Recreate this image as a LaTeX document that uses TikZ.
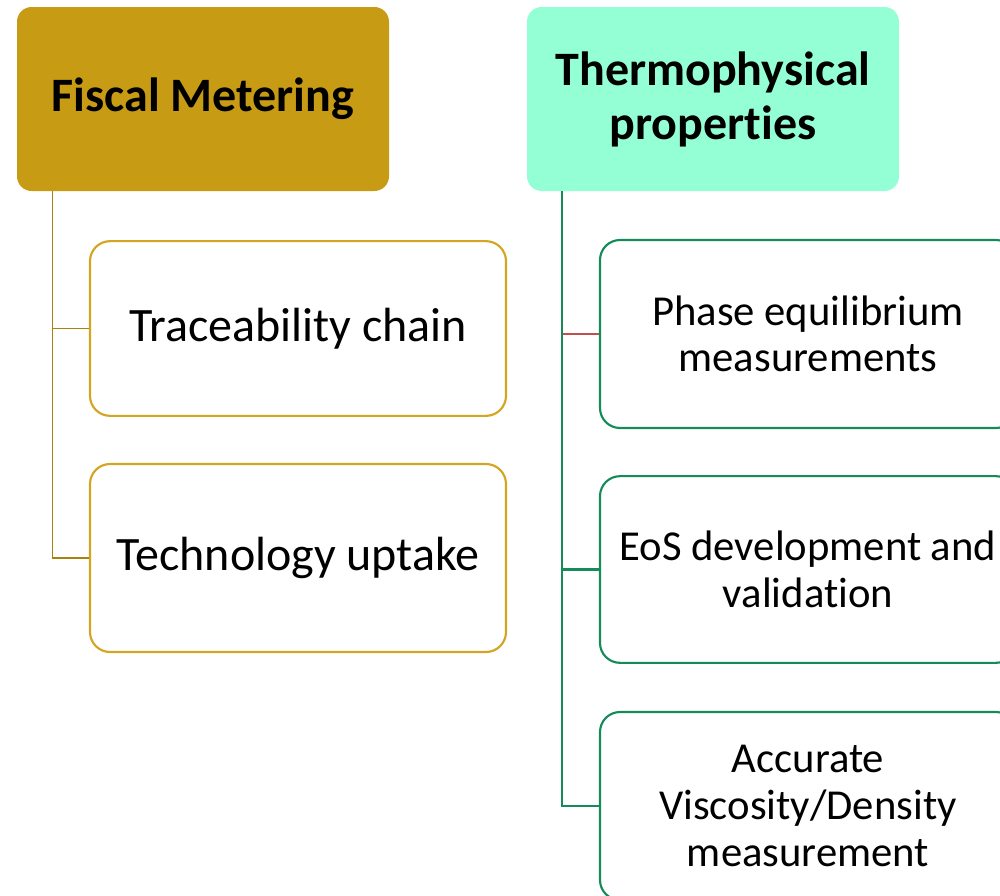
\documentclass[tikz,border=0pt]{standalone}
\usepackage{fontspec}
\setmainfont[Ligatures=NoCommon]{Carlito}
\usetikzlibrary{positioning,calc}

\definecolor{fiscalgold}{HTML}{C89B14}
\definecolor{goldline}{HTML}{D4A520}
\definecolor{goldspine}{HTML}{A8820F}
\definecolor{thermomint}{HTML}{94FFD4}
\definecolor{thermogreen}{HTML}{178A5A}
\definecolor{linkred}{HTML}{C0504D}

\begin{document}
\begin{tikzpicture}[
    x=0.75pt, y=-0.75pt,
    head/.style={rectangle, rounded corners=11pt, minimum width=279pt, minimum height=138pt, align=center, font=\fontsize{36}{40.5}\selectfont\bfseries},
    leaf/.style={rectangle, rounded corners=15pt, line width=1.6pt, fill=white, minimum width=312pt, align=center, font=\fontsize{32}{35}\selectfont},
    spine/.style={line width=1.8pt}
]
    \useasboundingbox (0,0) rectangle (1000,896);
    \clip (0,0) rectangle (1000,896);

    \node[head, fill=fiscalgold] (fiscal) at (203,99) {Fiscal Metering};
    \node[head, fill=thermomint] (thermo) at (713,99) {Thermophysical\\properties};

    \node[leaf, draw=goldline, minimum height=131pt, font=\fontsize{36}{40}\selectfont] (trace) at (298,328.5) {Traceability chain};
    \node[leaf, draw=goldline, minimum height=141pt, font=\fontsize{36}{40}\selectfont] (tech) at (298,558) {Technology uptake};

    \node[leaf, draw=thermogreen, minimum height=141pt] (phase) at (808,334) {Phase equilibrium\\measurements};
    \node[leaf, draw=thermogreen, minimum height=140pt] (eos) at (808,569.5) {EoS development and\\validation};
    \node[leaf, draw=thermogreen, minimum height=141pt] (visc) at (808,806) {Accurate\\Viscosity/Density\\measurement};

    \coordinate (fspine) at ($(fiscal.south west)+(36,0)$);
    \coordinate (tspine) at ($(thermo.south west)+(35,0)$);

    \draw[spine, goldspine, line width=1.1pt] (fspine) |- (trace.west);
    \draw[spine, goldspine, line width=1.1pt] (fspine) |- (tech.west);
    \draw[spine, linkred] (phase.west -| tspine) -- (phase.west);
    \draw[spine, thermogreen] (tspine) |- (visc.west);
    \draw[spine, thermogreen] (tspine) |- (eos.west);
\end{tikzpicture}
\end{document}
